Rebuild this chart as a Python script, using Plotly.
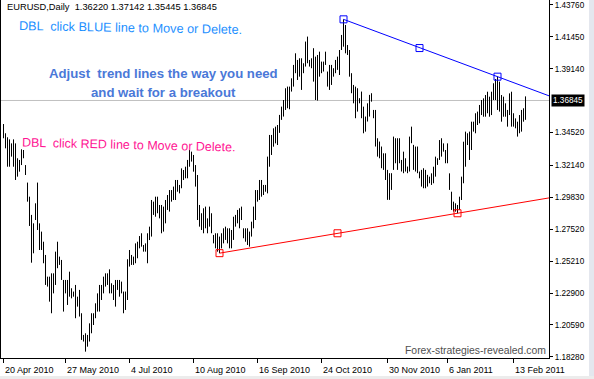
import plotly.graph_objects as go

# ---------------- data ----------------
highs = [
    1.3514, 1.3447, 1.3418, 1.3403, 1.3374, 1.3403, 1.3374, 1.3266, 1.3254, 1.3331,
    1.3326, 1.3217, 1.3090, 1.2988, 1.2856, 1.2795, 1.2940, 1.3090, 1.2795, 1.2735,
    1.2662, 1.2566, 1.2409, 1.2409, 1.2433, 1.2433, 1.2590, 1.2662, 1.2554, 1.2530,
    1.2385, 1.2385, 1.2385, 1.2445, 1.2325, 1.2301, 1.2349, 1.2264, 1.2313, 1.2144,
    1.1987, 1.1999, 1.1987, 1.2071, 1.2144, 1.2144, 1.2216, 1.2288, 1.2349, 1.2349,
    1.2409, 1.2433, 1.2433, 1.2462, 1.2361, 1.2349, 1.2385, 1.2385, 1.2385, 1.2373,
    1.2301, 1.2301, 1.2535, 1.2602, 1.2566, 1.2554, 1.2650, 1.2662, 1.2703, 1.2723,
    1.2638, 1.2650, 1.2723, 1.2771,
    1.2964, 1.2952, 1.2988, 1.2988, 1.2928, 1.2928, 1.2916, 1.2964, 1.3000, 1.3036,
    1.3036, 1.3061, 1.3109, 1.3109, 1.3073, 1.3193, 1.3181, 1.3205, 1.3254, 1.3326,
    1.3314, 1.3290, 1.3217, 1.3145, 1.2928, 1.2868, 1.2904, 1.2916, 1.2831, 1.2916,
    1.2868, 1.2711, 1.2723, 1.2723, 1.2699, 1.2723, 1.2759, 1.2771, 1.2759, 1.2759,
    1.2747, 1.2843, 1.2856, 1.2892, 1.2904, 1.2916, 1.2759, 1.2759, 1.2759, 1.2735,
    1.2807, 1.2916, 1.3036, 1.3036, 1.3109, 1.3109, 1.3073, 1.3073, 1.3278, 1.3435,
    1.3435, 1.3483, 1.3495, 1.3507,
    1.3580,
    1.3640, 1.3688, 1.3773, 1.3785, 1.3785, 1.3845, 1.3942, 1.4026, 1.3978, 1.3990,
    1.3990, 1.3954, 1.4111, 1.4147, 1.3978, 1.3990, 1.4063, 1.4002, 1.4014, 1.4038,
    1.3966, 1.3966, 1.4038, 1.3894, 1.3942, 1.3942, 1.3918, 1.3978, 1.4002, 1.4050,
    1.4159, 1.4272, 1.4231, 1.4086, 1.4050, 1.3882, 1.3797, 1.3785, 1.3773, 1.3701,
    1.3749, 1.3640, 1.3568, 1.3664, 1.3725, 1.3737, 1.3616, 1.3616, 1.3411, 1.3387,
    1.3351, 1.3302, 1.3302, 1.3182, 1.3158, 1.3158, 1.3423, 1.3411, 1.3411, 1.3411,
    1.3254, 1.3314, 1.3266, 1.3206, 1.3423, 1.3495, 1.3363, 1.3351, 1.3351, 1.3170,
    1.3182, 1.3194, 1.3182, 1.3146, 1.3133,
    1.3157, 1.3205, 1.3278, 1.3266, 1.3398, 1.3411, 1.3374, 1.3326, 1.3374, 1.3157,
    1.3024, 1.2952, 1.2940, 1.2928, 1.2988, 1.3133, 1.3386, 1.3459, 1.3447, 1.3459,
    1.3531, 1.3531, 1.3592, 1.3604, 1.3652, 1.3688, 1.3700, 1.3724, 1.3748, 1.3712,
    1.3748, 1.3809, 1.3840, 1.3857, 1.3821, 1.3724, 1.3712, 1.3664, 1.3616, 1.3736,
    1.3748, 1.3592, 1.3555, 1.3531, 1.3579, 1.3616, 1.3628, 1.37142,
]
lows = [
    1.3411, 1.3338, 1.3205, 1.3205, 1.3278, 1.3205, 1.3109, 1.3133, 1.3169, 1.3217,
    1.3266, 1.3145, 1.2952, 1.2776, 1.2510, 1.2578, 1.2819, 1.2747, 1.2602, 1.2602,
    1.2506, 1.2349, 1.2337, 1.2228, 1.2144, 1.2288, 1.2349, 1.2470, 1.2494, 1.2385,
    1.2156, 1.2288, 1.2204, 1.2264, 1.2252, 1.2264, 1.2108, 1.2192, 1.2120, 1.1951,
    1.1939, 1.1866, 1.1902, 1.1939, 1.1999, 1.2059, 1.2108, 1.2156, 1.2156, 1.2240,
    1.2288, 1.2337, 1.2349, 1.2288, 1.2288, 1.2240, 1.2192, 1.2313, 1.2264, 1.2288,
    1.2144, 1.2168, 1.2240, 1.2482, 1.2494, 1.2494, 1.2506, 1.2542, 1.2614, 1.2626,
    1.2590, 1.2590, 1.2506, 1.2674,
    1.2699, 1.2856, 1.2843, 1.2868, 1.2831, 1.2723, 1.2735, 1.2795, 1.2892, 1.2880,
    1.2952, 1.2964, 1.2964, 1.3024, 1.3012, 1.3049, 1.3109, 1.3121, 1.3121, 1.3205,
    1.3242, 1.3169, 1.3061, 1.2819, 1.2771, 1.2747, 1.2723, 1.2759, 1.2723, 1.2771,
    1.2723, 1.2650, 1.2614, 1.2590, 1.2579, 1.2614, 1.2650, 1.2675, 1.2650, 1.2614,
    1.2614, 1.2675, 1.2771, 1.2795, 1.2759, 1.2819, 1.2687, 1.2662, 1.2638, 1.2626,
    1.2699, 1.2759, 1.2819, 1.2952, 1.2964, 1.2988, 1.3000, 1.3024, 1.3012, 1.3205,
    1.3290, 1.3350, 1.3374, 1.3362,
    1.3450,
    1.3544, 1.3568, 1.3616, 1.3628, 1.3621, 1.3749, 1.3785, 1.3882, 1.3833, 1.3857,
    1.3761, 1.3882, 1.3930, 1.3954, 1.3930, 1.3918, 1.3821, 1.3688, 1.3684, 1.3857,
    1.3882, 1.3894, 1.3942, 1.3785, 1.3761, 1.3797, 1.3857, 1.3882, 1.3906, 1.3869,
    1.4050, 1.4074, 1.4026, 1.4014, 1.3857, 1.3737, 1.3664, 1.3556, 1.3604, 1.3664,
    1.3556, 1.3447, 1.3459, 1.3532, 1.3568, 1.3676, 1.3556, 1.3351, 1.3278, 1.3266,
    1.3194, 1.3182, 1.3109, 1.2965, 1.2965, 1.3037, 1.3182, 1.3230, 1.3182, 1.3230,
    1.3170, 1.3158, 1.3170, 1.3158, 1.3170, 1.3375, 1.3182, 1.3170, 1.3158, 1.3121,
    1.3061, 1.3049, 1.3049, 1.3061, 1.3085,
    1.3073, 1.3085, 1.3133, 1.3218, 1.3254, 1.3278, 1.3314, 1.3230, 1.3230, 1.3037,
    1.2892, 1.2880, 1.2880, 1.2868, 1.2892, 1.2964, 1.3085, 1.3205, 1.3362, 1.3254,
    1.3326, 1.3459, 1.3447, 1.3507, 1.3519, 1.3579, 1.3567, 1.3567, 1.3592, 1.3567,
    1.3579, 1.3688, 1.3688, 1.3616, 1.3604, 1.3531, 1.3567, 1.3567, 1.3495, 1.3579,
    1.3495, 1.3495, 1.3483, 1.3423, 1.3447, 1.3459, 1.3531, 1.35445,
]

date_tick_index = [0, 31, 63, 95, 127, 159, 192, 222, 255]
date_tick_text = ["20 Apr 2010", "27 May 2010", "4 Jul 2010", "10 Aug 2010",
                  "16 Sep 2010", "24 Oct 2010", "30 Nov 2010", "6 Jan 2011", "13 Feb 2011"]

price_tick_values = [1.43760, 1.41450, 1.39140, 1.34520, 1.32140, 1.29830,
                     1.27520, 1.25210, 1.22900, 1.20590, 1.18280]

blue_anchor_index = [170, 208, 247]
blue_anchor_price = [1.4272, 1.4064, 1.3857]
red_anchor_index = [108, 167, 227]
red_anchor_price = [1.2579, 1.2723, 1.2868]

symbol = "EURUSD,Daily"
last_ohlc = [1.36220, 1.37142, 1.35445, 1.36845]

# ---------------- layout helpers ----------------
W, H = 594, 379
ML, MR, MT, MB = 1, 45, 0, 21
PW = W - ML - MR
PH = H - MT - MB
X_RANGE = [-1.25, 272.75]
Y_RANGE = [1.1820, 1.4412]

def px(xp):
    return (xp - ML) / PW

def py(yp):
    return (MT + PH - yp) / PH

SANS = "Liberation Sans, Arial, sans-serif"

fig = go.Figure()

# price bars (high-low lines)
bx, by = [], []
for i, (h, l) in enumerate(zip(highs, lows)):
    bx += [i, i, None]
    by += [l, h, None]
fig.add_trace(go.Scatter(x=bx, y=by, mode="lines",
                         line=dict(color="black", width=1),
                         hoverinfo="skip", showlegend=False))

# trend lines (rays to the right edge)
def ray(idx, prc):
    slope = (prc[-1] - prc[0]) / (idx[-1] - idx[0])
    x_end = X_RANGE[1]
    return [idx[0], x_end], [prc[0], prc[0] + slope * (x_end - idx[0])]

for idx, prc, col in [(blue_anchor_index, blue_anchor_price, "#0000ff"),
                      (red_anchor_index, red_anchor_price, "#ff0000")]:
    rx, ry = ray(idx, prc)
    fig.add_trace(go.Scatter(x=rx, y=ry, mode="lines",
                             line=dict(color=col, width=1),
                             hoverinfo="skip", showlegend=False))
    fig.add_trace(go.Scatter(x=idx, y=prc, mode="markers",
                             marker=dict(symbol="square-open", size=7,
                                         color=col, line=dict(color=col, width=1)),
                             hoverinfo="skip", showlegend=False))

# current price horizontal line
fig.add_shape(type="line", xref="paper", yref="y", x0=0, x1=1,
              y0=last_ohlc[3], y1=last_ohlc[3],
              line=dict(color="#c0c0c0", width=1), layer="below")

# outer grey strips
fig.add_shape(type="rect", xref="paper", yref="paper",
              x0=px(589), x1=px(W + 2), y0=py(-2), y1=py(H + 2),
              line=dict(width=0), fillcolor="#e4e7ee", layer="below")
fig.add_shape(type="rect", xref="paper", yref="paper",
              x0=px(-2), x1=px(W + 2), y0=py(376), y1=py(H + 2),
              line=dict(width=0), fillcolor="#ececec", layer="below")

ann = []
# header
ann.append(dict(xref="paper", yref="paper", x=px(5), y=py(7), xanchor="left",
                yanchor="middle", showarrow=False,
                text=symbol + "  " + " ".join(f"{v:.5f}" for v in last_ohlc),
                font=dict(family=SANS, size=9.3, color="black")))
# instruction texts
ann.append(dict(xref="paper", yref="paper", x=px(17), y=py(28), xanchor="left",
                yanchor="middle", showarrow=False, textangle=1,
                text="DBL  click BLUE line to Move or Delete.",
                font=dict(family=SANS, size=12.7, color="#1e90ff")))
ann.append(dict(xref="paper", yref="paper", x=px(20), y=py(144.5), xanchor="left",
                yanchor="middle", showarrow=False, textangle=1.3,
                text="DBL  click RED line to Move or Delete.",
                font=dict(family=SANS, size=12.5, color="#ff1493")))
ann.append(dict(xref="paper", yref="paper", x=px(163), y=py(73), xanchor="center",
                yanchor="middle", showarrow=False,
                text="<b>Adjust  trend lines the way you need</b>",
                font=dict(family=SANS, size=13.2, color="#4a78d8")))
ann.append(dict(xref="paper", yref="paper", x=px(163), y=py(92.5), xanchor="center",
                yanchor="middle", showarrow=False,
                text="<b>and wait for a breakout</b>",
                font=dict(family=SANS, size=13.2, color="#4a78d8")))
# watermark
ann.append(dict(xref="paper", yref="paper", x=px(403), y=py(350.5), xanchor="left",
                yanchor="middle", showarrow=False,
                text="Forex-strategies-revealed.com",
                font=dict(family=SANS, size=10.4, color="#505050")))
# current price label
ann.append(dict(xref="paper", yref="y", x=px(551), y=last_ohlc[3], xanchor="left",
                yanchor="middle", showarrow=False, text=f"{last_ohlc[3]:.5f}",
                bgcolor="black", borderpad=1,
                font=dict(family=SANS, size=8.2, color="white")))
# date labels
for i, t in zip(date_tick_index, date_tick_text):
    ann.append(dict(xref="x", yref="paper", x=i, y=py(369.5), xanchor="left",
                    yanchor="middle", showarrow=False, text=t, xshift=-1,
                    font=dict(family=SANS, size=9, color="black")))

fig.update_layout(
    width=W, height=H,
    margin=dict(l=ML, r=MR, t=MT, b=MB, pad=0),
    paper_bgcolor="white", plot_bgcolor="white",
    showlegend=False,
    annotations=ann,
    xaxis=dict(range=X_RANGE, showgrid=False, zeroline=False,
               showline=True, linecolor="black", linewidth=1, mirror=True,
               tickmode="array", tickvals=date_tick_index, ticks="outside",
               ticklen=4, tickcolor="black", showticklabels=False),
    yaxis=dict(range=Y_RANGE, side="right", showgrid=False, zeroline=False,
               showline=True, linecolor="black", linewidth=1, mirror=True,
               tickmode="array", tickvals=price_tick_values,
               ticktext=[f"{v:.5f}" for v in price_tick_values],
               ticks="outside", ticklen=3, tickcolor="black",
               ticklabeloverflow="allow",
               tickfont=dict(family=SANS, size=8.2, color="black")),
)

fig.write_html("out.html")
